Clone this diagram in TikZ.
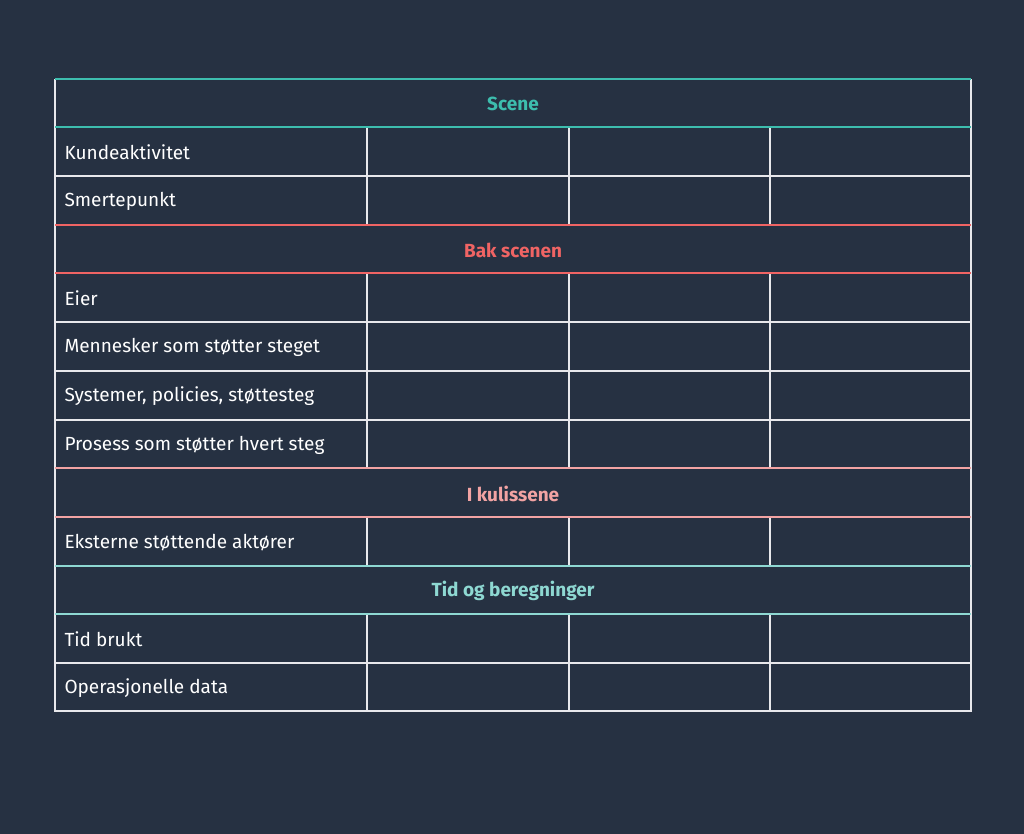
\documentclass[tikz,border=0pt]{standalone}
\usepackage{fontspec}
\setmainfont{Fira Sans}
\definecolor{bg}{HTML}{263142}
\definecolor{cA}{HTML}{3DBDAE}
\definecolor{cB}{HTML}{F06464}
\definecolor{cC}{HTML}{F2A3A3}
\definecolor{cD}{HTML}{8ED8D2}
\definecolor{ln}{HTML}{E8E8EC}
\begin{document}
\begin{tikzpicture}[x=1pt,y=-1pt,
  lbl/.style={anchor=west,text=white,font=\fontsize{19}{22}\selectfont},
  hdr/.style={font=\fontsize{19}{22}\selectfont\bfseries},
  grid/.style={draw=ln,line width=1.5pt}]
\fill[bg] (0,0) rectangle (1024,834);
\useasboundingbox (0,0) rectangle (1024,834);
\foreach \t/\b/\txt in {127/176/Kundeaktivitet,176/225/Smertepunkt,273/322/Eier,322/371/Mennesker som støtter steget,371/420/{Systemer, policies, støttesteg},420/468/Prosess som støtter hvert steg,517/566/Eksterne støttende aktører,614/663/Tid brukt,663/711/Operasjonelle data}{
  \draw[grid] (55,\t) rectangle (971,\b);
  \draw[grid] (367,\t) -- (367,\b) (569,\t) -- (569,\b) (770,\t) -- (770,\b);
  \node[lbl] at (61,{(\t+\b)/2+1}) {\txt};
}
\foreach \t/\b/\c/\txt in {79/127/cA/Scene,225/273/cB/Bak scenen,468/517/cC/I kulissene,566/614/cD/Tid og beregninger}{
  \draw[grid] (55,\t) -- (55,\b) (971,\t) -- (971,\b);
  \draw[draw=\c,line width=1.5pt] (55,\t) -- (971,\t) (55,\b) -- (971,\b);
  \node[hdr,text=\c] (h\t) at (513,{(\t+\b)/2+1}) {\txt};
}
\end{tikzpicture}
\end{document}
